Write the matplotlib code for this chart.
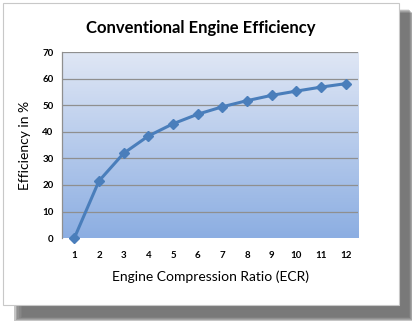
import numpy as np
import matplotlib
matplotlib.use("Agg")
import matplotlib.pyplot as plt
from matplotlib.patches import Rectangle

# compression ratio vs. thermal efficiency
ratios = [1, 2, 3, 4, 5, 6, 7, 8, 9, 10, 11, 12]
efficiency = [0, 21.5, 31.9, 38.4, 43.0, 46.6, 49.4, 51.7, 53.7, 55.3, 56.8, 58.1]
y_ticks = [0, 10, 20, 30, 40, 50, 60, 70]

plt.rcParams['font.family'] = ['Lato', 'DejaVu Sans']

fig = plt.figure(figsize=(4.13, 3.24), dpi=100)
fig.patch.set_facecolor('white')

# soft drop shadow behind the card
for i, a in enumerate([0.12, 0.16, 0.2, 0.25, 0.3, 0.35]):
    off = (6 - i) * 0.004
    fig.patches.append(Rectangle((0.03 + off, 0.008 + off * 0.6), 0.97 - off * 1.4, 0.95,
                                 transform=fig.transFigure, facecolor='#5a5a5a',
                                 edgecolor='none', alpha=a, zorder=0))
fig.patches.append(Rectangle((0.007, 0.059), 0.959, 0.932, transform=fig.transFigure,
                             facecolor='white', edgecolor='#c8c8c8', lw=0.8, zorder=1))

ax = fig.add_axes([0.150, 0.265, 0.717, 0.5745])
ax.set_zorder(2)
ax.set_xlim(0.5, 12.5)
ax.set_ylim(0, 70)

# vertical gradient fill of the plot area
grad = np.linspace(0, 1, 256).reshape(-1, 1)
top = np.array([224, 231, 245]) / 255
bot = np.array([140, 174, 226]) / 255
img = top + (bot - top) * grad[..., None]
ax.imshow(img, extent=[0.5, 12.5, 0, 70], aspect='auto', origin='upper', zorder=0)

for y in y_ticks[1:]:
    ax.axhline(y, color='#8f8f8f', lw=0.9, zorder=1)

ax.plot(ratios, efficiency, color='#4a7ebb', lw=2.2, marker='D', markersize=5,
        markerfacecolor='#4a7ebb', markeredgecolor='#4a7ebb', zorder=3, clip_on=False)

ax.set_xticks(ratios)
ax.set_yticks(y_ticks)
ax.tick_params(axis='both', length=0, labelsize=7, pad=6)
for lab in ax.get_xticklabels() + ax.get_yticklabels():
    lab.set_fontweight('bold')
ax.tick_params(axis='x', pad=9)
for side in ['top', 'right', 'bottom']:
    ax.spines[side].set_visible(False)
ax.spines['left'].set_color('#8f8f8f')
ax.spines['left'].set_linewidth(0.9)

ax.set_xlabel("Engine Compression Ratio (ECR)", fontsize=10, labelpad=8)
ax.set_ylabel("Efficiency in %", fontsize=10, labelpad=8)
fig.text(0.487, 0.915, "Conventional Engine Efficiency", ha='center', va='center',
         fontsize=12, fontweight='bold')

fig.savefig("out.png", dpi=100)
